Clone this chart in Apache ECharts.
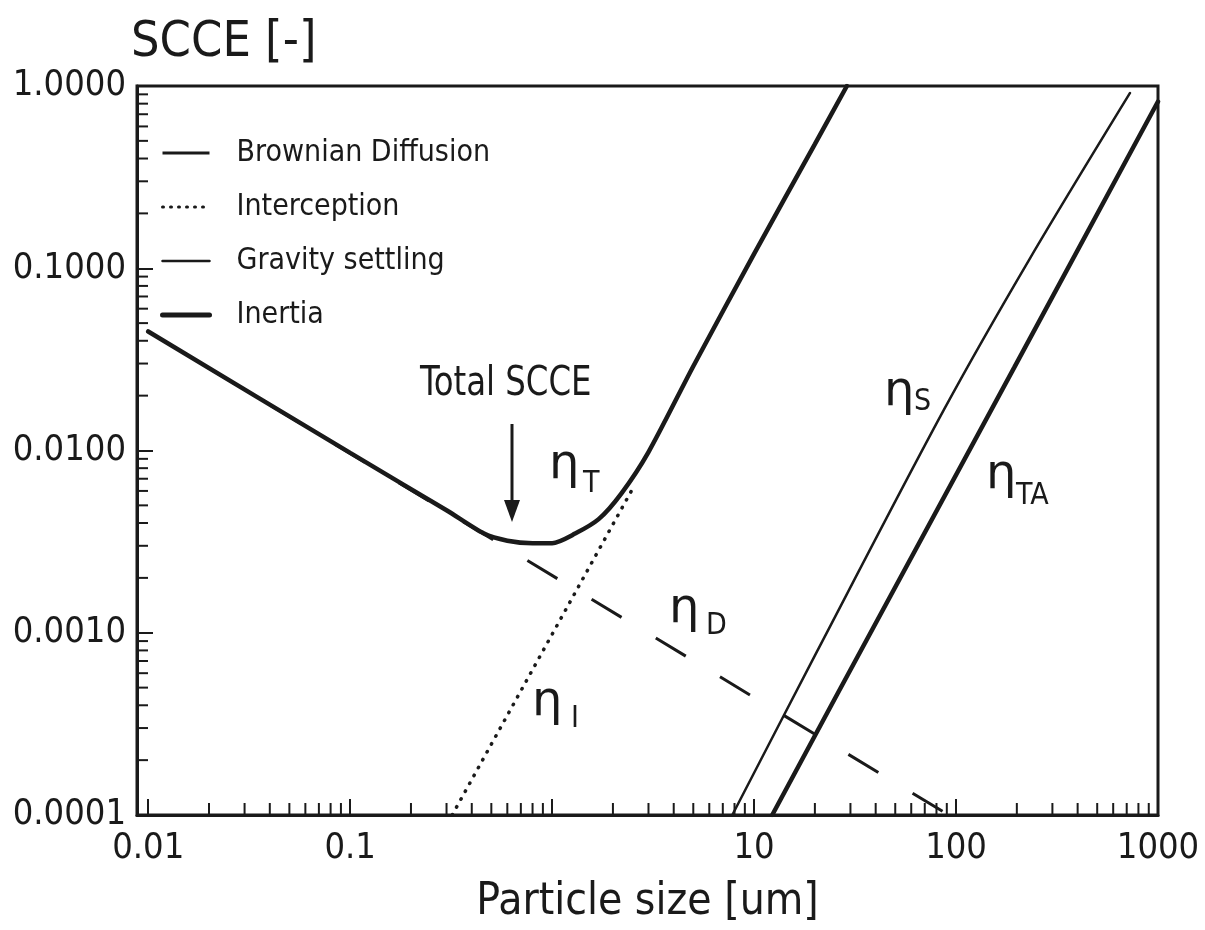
<!DOCTYPE html>
<html>
<head>
<meta charset="utf-8">
<title>Single collector collection efficiency</title>
<script src="https://cdn.jsdelivr.net/npm/echarts@6/dist/echarts.min.js"></script>
<style>
  html, body { margin: 0; padding: 0; background: #ffffff; }
  #chart { width: 1205px; height: 930px; }
</style>
</head>
<body>
<div id="chart"></div>
<script>
// Axis ticks and labels
const xTickValues = [0.01, 0.1, 1, 10, 100, 1000];
const xTickLabels = ['0.01', '0.1', '', '10', '100', '1000'];
const yTickValues = [0.0001, 0.001, 0.01, 0.1, 1];
const yTickLabels = ['0.0001', '0.0010', '0.0100', '0.1000', '1.0000'];
const minorMantissas = [2, 3, 4, 5, 6, 7, 8, 9];

// Collection efficiency curves: [particle size (um), SCCE (-)]
const totalScce = [
  [0.01, 0.045], [0.1, 0.0097], [0.3, 0.0047], [0.46, 0.0035], [0.6, 0.0032],
  [0.8, 0.0031], [1.0, 0.0031], [1.3, 0.0035], [1.7, 0.0042], [2.2, 0.0058],
  [3.0, 0.0098], [5, 0.029], [10, 0.12], [20, 0.48], [28.8, 1.0]
];
const brownianDiffusion = [[0.01, 0.045], [92, 0.0001]];
const interception = [[0.32, 0.0001], [2.55, 0.0064]];
const gravitySettling = [[7.8, 0.0001], [20.5, 0.00079], [87, 0.0167], [232, 0.113], [727, 0.916]];
const inertia = [[12.3, 0.0001], [25.8, 0.00046], [194, 0.0285], [933, 0.713], [1000, 0.82]];

const legendNames = ['Brownian Diffusion', 'Interception', 'Gravity settling', 'Inertia'];

const INK = '#1a1a1a';
const FONT = "'Liberation Sans Narrow', 'DejaVu Sans Condensed', 'Arial Narrow', 'Liberation Sans', sans-serif";
const X_MIN = 0.0088;
const X_MAX = 1000;
const Y_MIN = 0.0001;
const Y_MAX = 1;

function tickText(values, labels, v) {
  for (let i = 0; i < values.length; i++) {
    if (Math.abs(Math.log10(v) - Math.log10(values[i])) < 1e-6) return labels[i];
  }
  return '';
}

// minor tick values between the decades of an axis
function minorTicks(decades) {
  const out = [];
  decades.forEach(function (d) {
    minorMantissas.forEach(function (m) { out.push(m * d); });
  });
  return out;
}
const xMinor = minorTicks([0.01, 0.1, 1, 10, 100]);
const yMinor = minorTicks([0.0001, 0.001, 0.01, 0.1]);

const chart = echarts.init(document.getElementById('chart'), null, { renderer: 'canvas' });

function lineSeries(name, data, width, dash, z, extra) {
  const s = {
    name: name,
    type: 'line',
    data: data,
    symbol: 'none',
    z: z,
    lineStyle: { color: INK, width: width, type: dash, cap: 'round' },
    itemStyle: { color: INK },
    clip: true
  };
  return Object.assign(s, extra || {});
}

// Greek eta with a subscript, placed as two text pieces
function etaLabel(sub, ex, ey, sx, sy) {
  return {
    type: 'group',
    children: [
      { type: 'text', x: ex, y: ey, style: { text: 'η', font: '48px "DejaVu Sans"', fill: INK } },
      { type: 'text', x: sx, y: sy, style: { text: sub, font: '30px ' + FONT, fill: INK } }
    ]
  };
}

const option = {
  backgroundColor: '#ffffff',
  animation: false,
  textStyle: { fontFamily: FONT, color: INK },
  grid: {
    left: 137, right: 47, top: 86, bottom: 108,
    show: true, borderColor: INK, borderWidth: 3, backgroundColor: 'transparent'
  },
  legend: {
    data: [
      { name: legendNames[0], lineStyle: { type: 'solid', width: 3 } },
      { name: legendNames[1], lineStyle: { type: [1, 7], width: 3 } },
      { name: legendNames[2], lineStyle: { type: 'solid', width: 2.5 } },
      { name: legendNames[3], lineStyle: { type: 'solid', width: 5 } }
    ],
    orient: 'vertical',
    left: 155, top: 133,
    itemWidth: 47, itemHeight: 14, itemGap: 24,
    itemStyle: { opacity: 0 },
    textStyle: { fontFamily: FONT, fontSize: 30, color: INK, padding: [0, 0, 0, 22] },
    selectedMode: false
  },
  xAxis: {
    type: 'log', logBase: 10, min: X_MIN, max: X_MAX,
    name: 'Particle size [um]', nameLocation: 'middle', nameGap: 66,
    nameTextStyle: { fontFamily: FONT, fontSize: 44, color: INK },
    axisLine: { lineStyle: { color: INK, width: 3 } },
    axisTick: { inside: true, length: 16, lineStyle: { color: INK, width: 2 } },
    axisLabel: {
      fontFamily: FONT, fontSize: 36, color: INK, margin: 16,
      formatter: function (v) { return tickText(xTickValues, xTickLabels, v); }
    },
    splitLine: { show: false }
  },
  yAxis: {
    type: 'log', logBase: 10, min: Y_MIN, max: Y_MAX,
    name: 'SCCE [-]', nameLocation: 'end', nameGap: 10,
    nameTextStyle: { fontFamily: FONT, fontSize: 50, color: INK, align: 'left', verticalAlign: 'bottom', padding: [0, 0, 0, -6] },
    axisLine: { lineStyle: { color: INK, width: 3 } },
    axisTick: { inside: true, length: 16, lineStyle: { color: INK, width: 2 } },
    axisLabel: {
      fontFamily: FONT, fontSize: 36, color: INK, margin: 11,
      formatter: function (v) { return tickText(yTickValues, yTickLabels, v); }
    },
    splitLine: { show: false }
  },
  series: [
    lineSeries('Brownian Diffusion', brownianDiffusion, 3, [35, 40], 2, { lineStyle: { color: INK, width: 3, type: [35, 40], dashOffset: 7, cap: 'butt' } }),
    lineSeries('Interception', interception, 3.5, [0.5, 8.5], 2),
    lineSeries('Gravity settling', gravitySettling, 2.5, 'solid', 3, { smooth: 0.3 }),
    lineSeries('Inertia', inertia, 4.5, 'solid', 3),
    lineSeries('Total SCCE', totalScce, 4.5, 'solid', 5, { smooth: 0.25 }),
    {
      name: 'x minor ticks', type: 'custom', coordinateSystem: 'cartesian2d', silent: true, clip: false,
      data: xMinor.map(function (v) { return [v, Y_MIN]; }),
      renderItem: function (params, api) {
        const p = api.coord([api.value(0), api.value(1)]);
        return { type: 'line', shape: { x1: p[0], y1: p[1], x2: p[0], y2: p[1] - 12 }, style: { stroke: INK, lineWidth: 2 } };
      }
    },
    {
      name: 'y minor ticks', type: 'custom', coordinateSystem: 'cartesian2d', silent: true, clip: false,
      data: yMinor.map(function (v) { return [X_MIN, v]; }),
      renderItem: function (params, api) {
        const p = api.coord([api.value(0), api.value(1)]);
        return { type: 'line', shape: { x1: p[0], y1: p[1], x2: p[0] + 11, y2: p[1] }, style: { stroke: INK, lineWidth: 2 } };
      }
    }
  ],
  graphic: [
    // "Total SCCE" annotation with its arrow
    { type: 'text', x: 420, y: 365, scaleX: 0.9, style: { text: 'Total SCCE', font: '40px ' + FONT, fill: INK } },
    { type: 'line', shape: { x1: 512, y1: 424, x2: 512, y2: 506 }, style: { stroke: INK, lineWidth: 3 } },
    { type: 'polygon', shape: { points: [[504, 500], [520, 500], [512, 522]] }, style: { fill: INK } },
    // curve labels
    etaLabel('T', 549, 442, 583, 469),
    etaLabel('D', 669, 586, 706, 611),
    etaLabel('I', 532, 679, 571, 704),
    etaLabel('S', 884, 369, 914, 387),
    etaLabel('TA', 986, 452, 1016, 481)
  ]
};

chart.setOption(option);
</script>
</body>
</html>
